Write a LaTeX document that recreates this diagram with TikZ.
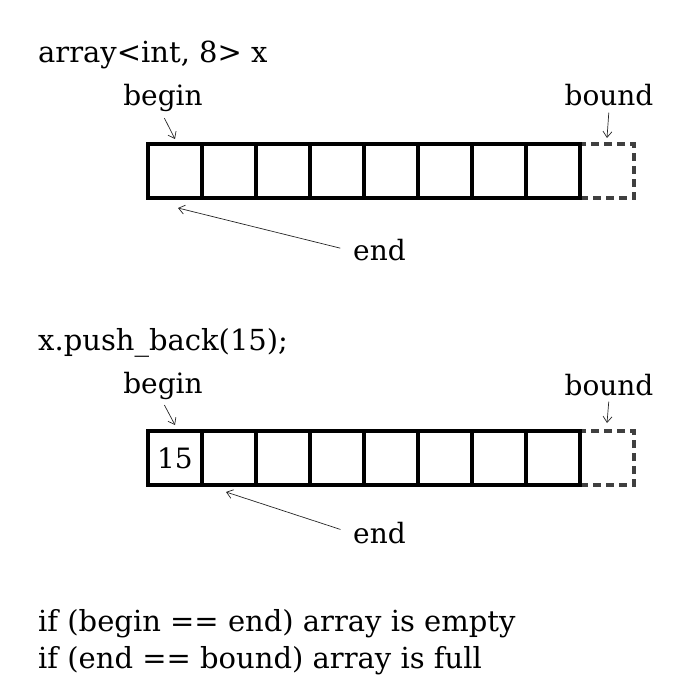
\documentclass[tikz,border=0pt]{standalone}
\usepackage{fontspec}
\setmainfont{DejaVu Serif}
\usetikzlibrary{arrows.meta}
\tikzset{
  cell/.style={draw,line width=3.3pt,minimum size=54pt,inner sep=0pt,outer sep=0pt,anchor=north west},
  ghost/.style={cell,draw=black!75,line width=3.3pt,dash pattern=on 8pt off 5pt},
  txt/.style={inner sep=0pt,anchor=base west,font=\fontsize{29}{35}\selectfont},
  lbl/.style={inner sep=3pt,anchor=base,font=\fontsize{28}{34}\selectfont},
  ptr/.style={->,line width=0.7pt,black!85},
}
\begin{document}
\begin{tikzpicture}[x=1pt,y=-1pt,>={Straight Barb[length=6pt,width=9pt]}]
    \useasboundingbox (0,0) rectangle (700,700);
    % 第一个数组
    \node[txt] (title1) at (38,63) {array<int, 8> x};
    \node[ghost] (a9) at (580,144) {};
    \foreach \i in {1,...,8}
        \node[cell] (a\i) at ({148+54*(\i-1)},144) {};
    \node[lbl] (beg1) at (163,106) {begin};
    \node[lbl] (bnd1) at (609,106) {bound};
    \node[lbl,anchor=base west] (end1) at (350,261) {end};
    \draw[ptr,shorten <=3pt] (beg1.south) -- ([yshift=5pt]a1.north);
    \draw[ptr,shorten <=3pt] (bnd1.south) -- ([yshift=6pt]a9.north);
    \draw[ptr,shorten <=10pt] (end1.west) -- ([xshift=3pt,yshift=-10pt]a1.south);
    % push_back 之后
    \node[txt] (title2) at (38,350) {x.push\_back(15);};
    \node[ghost] (b9) at (580,431) {};
    \foreach \i in {1,...,8}
        \node[cell] (b\i) at ({148+54*(\i-1)},431) {};
    \node[lbl,inner sep=0pt,anchor=base] (val) at (175,468) {15};
    \node[lbl] (beg2) at (163,393) {begin};
    \node[lbl] (bnd2) at (609,395) {bound};
    \node[lbl,anchor=base west] (end2) at (350,543) {end};
    \draw[ptr,shorten <=3pt] (beg2.south) -- ([yshift=6pt]b1.north);
    \draw[ptr,shorten <=3pt] (bnd2.south) -- ([yshift=8pt]b9.north);
    \draw[ptr,shorten <=10pt] (end2.west) -- ([xshift=-3pt,yshift=-7pt]b2.south);
    % 判断条件
    \node[txt] (cond1) at (38,631) {if (begin == end) array is empty};
    \node[txt] (cond2) at (38,668) {if (end == bound) array is full};
\end{tikzpicture}
\end{document}
